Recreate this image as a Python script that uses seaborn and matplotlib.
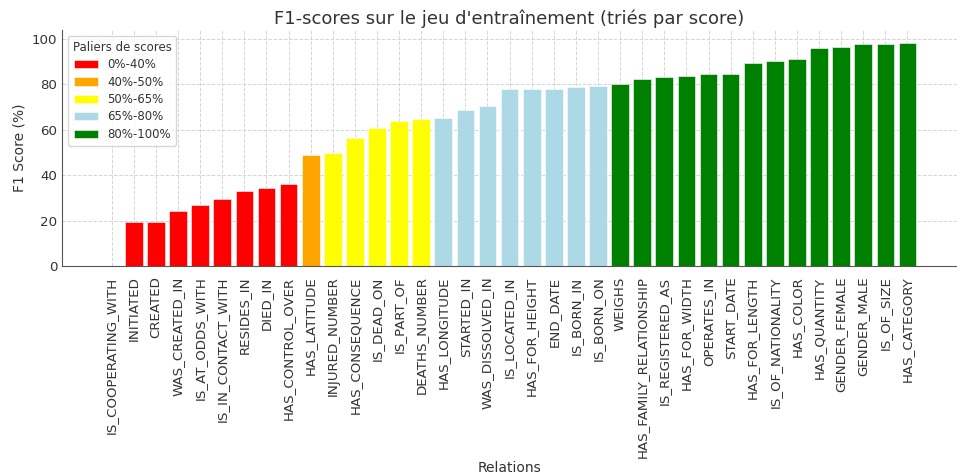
import pandas as pd
import seaborn as sns
from matplotlib import pyplot as plt

relations = [
    "IS_COOPERATING_WITH", "INITIATED", "CREATED", "WAS_CREATED_IN", "IS_AT_ODDS_WITH",
    "IS_IN_CONTACT_WITH", "RESIDES_IN", "DIED_IN", "HAS_CONTROL_OVER", "HAS_LATITUDE",
    "INJURED_NUMBER", "HAS_CONSEQUENCE", "IS_DEAD_ON", "IS_PART_OF", "DEATHS_NUMBER",
    "HAS_LONGITUDE", "STARTED_IN", "WAS_DISSOLVED_IN", "IS_LOCATED_IN", "HAS_FOR_HEIGHT",
    "END_DATE", "IS_BORN_IN", "IS_BORN_ON", "WEIGHS", "HAS_FAMILY_RELATIONSHIP",
    "IS_REGISTERED_AS", "HAS_FOR_WIDTH", "OPERATES_IN", "START_DATE", "HAS_FOR_LENGTH",
    "IS_OF_NATIONALITY", "HAS_COLOR", "HAS_QUANTITY", "GENDER_FEMALE", "GENDER_MALE",
    "IS_OF_SIZE", "HAS_CATEGORY",
]
scores = [
    0.0, 19.3, 19.5, 24.3, 27.0,
    29.4, 33.2, 34.2, 36.0, 49.0,
    50.0, 56.3, 60.6, 64.0, 64.8,
    65.4, 68.8, 70.3, 77.9, 78.1,
    78.1, 78.8, 79.5, 80.2, 82.6,
    83.2, 83.6, 84.5, 84.6, 89.5,
    90.2, 91.2, 96.0, 96.6, 97.7,
    97.8, 98.4,
]
tiers = ["0%-40%", "40%-50%", "50%-65%", "65%-80%", "80%-100%"]
tier_colors = ["red", "orange", "yellow", "lightblue", "green"]


def tier_of(s):
    if s < 40:
        return tiers[0]
    if s < 50:
        return tiers[1]
    if s < 65:
        return tiers[2]
    if s < 80:
        return tiers[3]
    return tiers[4]


df = pd.DataFrame({"relation": relations, "score": scores})
df["tier"] = df["score"].apply(tier_of)

sns.set_style("white")
plt.rcParams["font.family"] = ["DejaVu Sans"]
text_col = "#333333"

fig, ax = plt.subplots(figsize=(9.57, 4.75), dpi=100)
fig.subplots_adjust(left=0.065, right=1.0, top=0.937, bottom=0.44)

sns.barplot(data=df, x="relation", y="score", hue="tier", hue_order=tiers,
            palette=dict(zip(tiers, tier_colors)), dodge=False, width=0.8,
            saturation=1, edgecolor="white", linewidth=0.4, ax=ax)

ax.set_xlim(-2.24, len(relations) - 1 + 2.24)
ax.set_ylim(0, 104)
ax.grid(True, linestyle="--", color="#d5d5d5", linewidth=0.7)
ax.set_axisbelow(True)
for side in ["top", "right"]:
    ax.spines[side].set_visible(False)
for side in ["left", "bottom"]:
    ax.spines[side].set_color("#555555")
ax.tick_params(axis="both", direction="in", length=3, colors="#555555",
               labelcolor=text_col, labelsize=9.6)
ax.tick_params(axis="x", pad=7.5)
plt.setp(ax.get_xticklabels(), rotation=90)

ax.set_title("F1-scores sur le jeu d'entraînement (triés par score)", fontsize=13,
             color=text_col, pad=4)
ax.set_xlabel("Relations", fontsize=10, color=text_col, labelpad=2)
ax.set_ylabel("F1 Score (%)", fontsize=10, color=text_col)

leg = ax.legend(title="Paliers de scores", loc="upper left", fontsize=8.5, title_fontsize=8.5,
                labelspacing=0.38, frameon=True)
for t in leg.get_texts():
    t.set_color(text_col)
leg.get_title().set_color(text_col)

fig.savefig("out.png", dpi=100)
plt.close(fig)
